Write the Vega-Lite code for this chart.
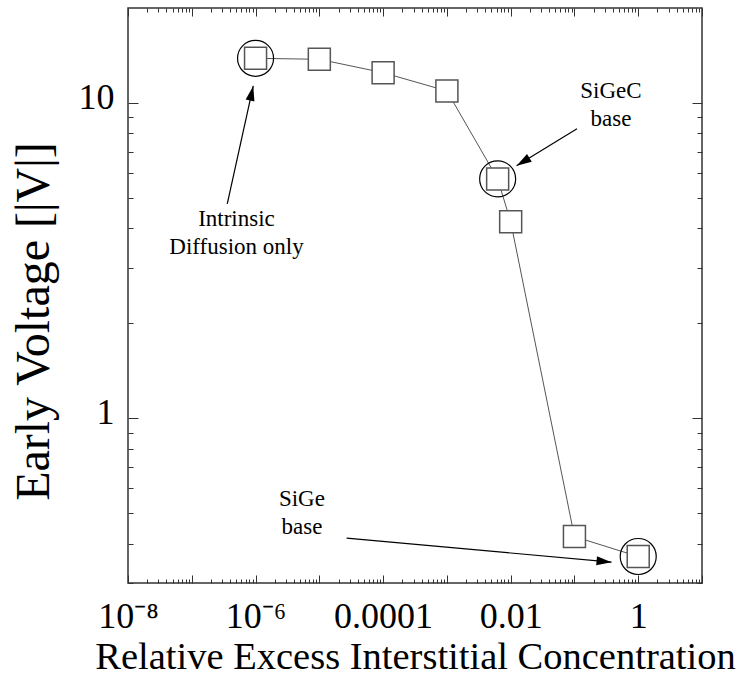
{
  "$schema": "https://vega.github.io/schema/vega-lite/v6.json",
  "width": 574,
  "height": 575,
  "autosize": {"type": "none"},
  "padding": {"left": 128, "top": 8, "right": 44, "bottom": 98},
  "background": "white",
  "config": {
    "view": {"stroke": "#333", "strokeWidth": 1.5},
    "axis": {
      "domain": false,
      "grid": false,
      "tickColor": "#333",
      "tickWidth": 1,
      "labelFont": "Liberation Serif, Times New Roman, Times, serif",
      "titleFont": "Liberation Serif, Times New Roman, Times, serif",
      "labelColor": "black",
      "titleColor": "black",
      "titleFontWeight": "normal",
      "labelOverlap": false,
      "labelBound": false,
      "labelFlush": false
    }
  },
  "datasets": {
    "pts": [
      {"x": 1e-6, "y": 13.85, "circled": true},
      {"x": 1e-5, "y": 13.75, "circled": false},
      {"x": 1e-4, "y": 12.47, "circled": false},
      {"x": 1e-3, "y": 10.91, "circled": false},
      {"x": 0.00625, "y": 5.74, "circled": true},
      {"x": 0.01, "y": 4.2, "circled": false},
      {"x": 0.1, "y": 0.421, "circled": false},
      {"x": 1, "y": 0.364, "circled": true}
    ],
    "arrows": [
      {"id": "intr", "x": 3.601e-7, "y": 4.779, "x2": 9.204e-7, "y2": 11.32},
      {"id": "sigec", "x": 0.1096, "y": 8.276, "x2": 0.01239, "y2": 6.318},
      {"id": "sige", "x": 2.679e-5, "y": 0.4163, "x2": 0.3815, "y2": 0.3494}
    ],
    "notes": [
      {"x": 5.02e-7, "y": 4.081, "label": "Intrinsic\nDiffusion only"},
      {"x": 0.374, "y": 10.37, "label": "SiGeC\nbase"},
      {"x": 5.333e-6, "y": 0.5266, "label": "SiGe\nbase"}
    ]
  },
  "resolve": {"axis": {"x": "independent", "y": "independent"}},
  "layer": [
    {
      "data": {"name": "pts"},
      "mark": {"type": "line", "color": "#555", "strokeWidth": 1},
      "encoding": {
        "x": {
          "field": "x", "type": "quantitative",
          "scale": {"type": "log", "domain": [1e-8, 10], "nice": false},
          "axis": {
            "orient": "bottom",
            "values": [1e-8, 1e-7, 1e-6, 1e-5, 1e-4, 1e-3, 0.01, 0.1, 1, 10],
            "tickSize": -8,
            "labelPadding": 24.6,
            "labelFontSize": 36,
            "labelExpr": "datum.value < 2e-8 ? '10⁻⁸' : (datum.value > 5e-7 && datum.value < 2e-6) ? '10⁻⁶' : (datum.value > 5e-5 && datum.value < 2e-4) ? '0.0001' : (datum.value > 5e-3 && datum.value < 2e-2) ? '0.01' : (datum.value > 0.5 && datum.value < 2) ? '1' : ''",
            "title": "Relative Excess Interstitial Concentration",
            "titleFontSize": 38.5,
            "titleBaseline": "alphabetic",
            "titleY": 85
          }
        },
        "y": {
          "field": "y", "type": "quantitative",
          "scale": {"type": "log", "domain": [0.3, 20], "nice": false},
          "axis": {
            "orient": "left",
            "values": [1, 10],
            "tickSize": -10,
            "labelPadding": 24,
            "labelFontSize": 36,
            "labelBaseline": "alphabetic",
            "labelOffset": 5.5,
            "labelExpr": "datum.value >= 5 ? '10' : '1'",
            "title": "Early Voltage [|V|]",
            "titleFontSize": 48,
            "titleBaseline": "alphabetic",
            "titleAngle": -90,
            "titleX": -80,
            "titleY": 313
          }
        }
      }
    },
    {
      "data": {"name": "pts"},
      "mark": {"type": "point", "shape": "square", "size": 484, "filled": true, "fill": "white", "stroke": "#555", "strokeWidth": 1.5, "opacity": 1},
      "encoding": {
        "x": {"field": "x", "type": "quantitative", "scale": {"type": "log", "domain": [1e-8, 10], "nice": false}, "axis": null},
        "y": {"field": "y", "type": "quantitative", "scale": {"type": "log", "domain": [0.3, 20], "nice": false}, "axis": null}
      }
    },
    {
      "data": {"name": "pts"},
      "transform": [{"filter": "datum.circled"}],
      "mark": {"type": "point", "shape": "circle", "size": 1296, "filled": false, "stroke": "black", "strokeWidth": 1.2, "opacity": 1},
      "encoding": {
        "x": {"field": "x", "type": "quantitative", "scale": {"type": "log", "domain": [1e-8, 10], "nice": false}, "axis": null},
        "y": {"field": "y", "type": "quantitative", "scale": {"type": "log", "domain": [0.3, 20], "nice": false}, "axis": null}
      }
    },
    {
      "data": {"name": "arrows"},
      "mark": {"type": "rule", "color": "black", "strokeWidth": 1.2},
      "encoding": {
        "x": {"field": "x", "type": "quantitative", "scale": {"type": "log", "domain": [1e-8, 10], "nice": false}, "axis": null},
        "y": {"field": "y", "type": "quantitative", "scale": {"type": "log", "domain": [0.3, 20], "nice": false}, "axis": null},
        "x2": {"field": "x2"},
        "y2": {"field": "y2"}
      }
    },
    {
      "data": {"name": "arrows"},
      "transform": [{"filter": "datum.id == 'intr'"}],
      "mark": {"type": "point", "shape": "M0,0L-0.3,1L0.3,1Z", "size": 900, "filled": true, "color": "black", "opacity": 1, "angle": 12.4},
      "encoding": {
        "x": {"field": "x2", "type": "quantitative", "scale": {"type": "log", "domain": [1e-8, 10], "nice": false}, "axis": null},
        "y": {"field": "y2", "type": "quantitative", "scale": {"type": "log", "domain": [0.3, 20], "nice": false}, "axis": null}
      }
    },
    {
      "data": {"name": "arrows"},
      "transform": [{"filter": "datum.id == 'sigec'"}],
      "mark": {"type": "point", "shape": "M0,0L-0.3,1L0.3,1Z", "size": 900, "filled": true, "color": "black", "opacity": 1, "angle": 238.5},
      "encoding": {
        "x": {"field": "x2", "type": "quantitative", "scale": {"type": "log", "domain": [1e-8, 10], "nice": false}, "axis": null},
        "y": {"field": "y2", "type": "quantitative", "scale": {"type": "log", "domain": [0.3, 20], "nice": false}, "axis": null}
      }
    },
    {
      "data": {"name": "arrows"},
      "transform": [{"filter": "datum.id == 'sige'"}],
      "mark": {"type": "point", "shape": "M0,0L-0.3,1L0.3,1Z", "size": 900, "filled": true, "color": "black", "opacity": 1, "angle": 95.2},
      "encoding": {
        "x": {"field": "x2", "type": "quantitative", "scale": {"type": "log", "domain": [1e-8, 10], "nice": false}, "axis": null},
        "y": {"field": "y2", "type": "quantitative", "scale": {"type": "log", "domain": [0.3, 20], "nice": false}, "axis": null}
      }
    },
    {
      "data": {"name": "notes"},
      "mark": {"type": "text", "font": "Liberation Serif, Times New Roman, Times, serif", "fontSize": 23, "align": "center", "baseline": "alphabetic", "lineBreak": "\n", "lineHeight": 28, "color": "black"},
      "encoding": {
        "x": {"field": "x", "type": "quantitative", "scale": {"type": "log", "domain": [1e-8, 10], "nice": false}, "axis": null},
        "y": {"field": "y", "type": "quantitative", "scale": {"type": "log", "domain": [0.3, 20], "nice": false}, "axis": null},
        "text": {"field": "label"}
      }
    },
    {
      "data": {"name": "pts"},
      "mark": {"type": "point", "opacity": 0},
      "encoding": {
        "x": {
          "field": "x", "type": "quantitative",
          "scale": {"type": "log", "domain": [1e-8, 10], "nice": false},
          "axis": {
            "orient": "bottom", "labels": false, "title": null, "tickSize": -4,
            "values": [2e-8,3e-8,4e-8,5e-8,6e-8,7e-8,8e-8,9e-8,2e-7,3e-7,4e-7,5e-7,6e-7,7e-7,8e-7,9e-7,2e-6,3e-6,4e-6,5e-6,6e-6,7e-6,8e-6,9e-6,2e-5,3e-5,4e-5,5e-5,6e-5,7e-5,8e-5,9e-5,2e-4,3e-4,4e-4,5e-4,6e-4,7e-4,8e-4,9e-4,0.002,0.003,0.004,0.005,0.006,0.007,0.008,0.009,0.02,0.03,0.04,0.05,0.06,0.07,0.08,0.09,0.2,0.3,0.4,0.5,0.6,0.7,0.8,0.9,2,3,4,5,6,7,8,9]
          }
        },
        "y": {
          "field": "y", "type": "quantitative",
          "scale": {"type": "log", "domain": [0.3, 20], "nice": false},
          "axis": {
            "orient": "left", "labels": false, "title": null, "tickSize": -5,
            "values": [0.3,0.4,0.5,0.6,0.7,0.8,0.9,2,3,4,5,6,7,8,9]
          }
        }
      }
    },
    {
      "data": {"name": "pts"},
      "mark": {"type": "point", "opacity": 0},
      "encoding": {
        "x": {
          "field": "x", "type": "quantitative",
          "scale": {"type": "log", "domain": [1e-8, 10], "nice": false},
          "axis": {
            "orient": "top", "labels": false, "title": null, "tickSize": -8,
            "values": [1e-8, 1e-7, 1e-6, 1e-5, 1e-4, 1e-3, 0.01, 0.1, 1, 10]
          }
        },
        "y": {
          "field": "y", "type": "quantitative",
          "scale": {"type": "log", "domain": [0.3, 20], "nice": false},
          "axis": {
            "orient": "right", "labels": false, "title": null, "tickSize": -10,
            "values": [1, 10]
          }
        }
      }
    },
    {
      "data": {"name": "pts"},
      "mark": {"type": "point", "opacity": 0},
      "encoding": {
        "x": {
          "field": "x", "type": "quantitative",
          "scale": {"type": "log", "domain": [1e-8, 10], "nice": false},
          "axis": {
            "orient": "top", "labels": false, "title": null, "tickSize": -4,
            "values": [2e-8,3e-8,4e-8,5e-8,6e-8,7e-8,8e-8,9e-8,2e-7,3e-7,4e-7,5e-7,6e-7,7e-7,8e-7,9e-7,2e-6,3e-6,4e-6,5e-6,6e-6,7e-6,8e-6,9e-6,2e-5,3e-5,4e-5,5e-5,6e-5,7e-5,8e-5,9e-5,2e-4,3e-4,4e-4,5e-4,6e-4,7e-4,8e-4,9e-4,0.002,0.003,0.004,0.005,0.006,0.007,0.008,0.009,0.02,0.03,0.04,0.05,0.06,0.07,0.08,0.09,0.2,0.3,0.4,0.5,0.6,0.7,0.8,0.9,2,3,4,5,6,7,8,9]
          }
        },
        "y": {
          "field": "y", "type": "quantitative",
          "scale": {"type": "log", "domain": [0.3, 20], "nice": false},
          "axis": {
            "orient": "right", "labels": false, "title": null, "tickSize": -5,
            "values": [0.3,0.4,0.5,0.6,0.7,0.8,0.9,2,3,4,5,6,7,8,9]
          }
        }
      }
    }
  ]
}
